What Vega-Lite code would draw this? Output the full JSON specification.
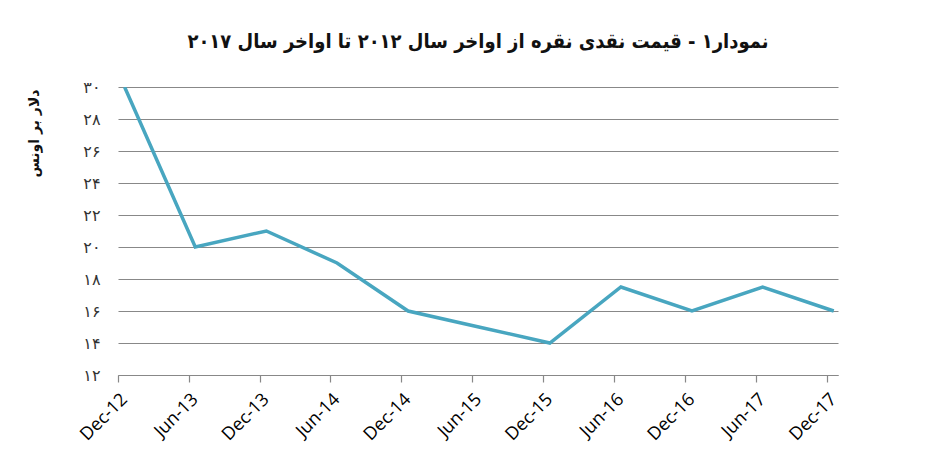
{
  "$schema": "https://vega.github.io/schema/vega-lite/v6.json",
  "width": 720,
  "height": 288,
  "autosize": {"type": "none"},
  "padding": {"left": 118, "top": 87, "right": 109, "bottom": 99},
  "background": "white",
  "title": {
    "text": "نمودار۱ - قیمت نقدی نقره از اواخر سال ۲۰۱۲ تا اواخر سال ۲۰۱۷",
    "font": "DejaVu Sans Condensed",
    "fontSize": 20,
    "fontWeight": "bold",
    "color": "#111111",
    "anchor": "middle",
    "offset": 27
  },
  "config": {"view": {"stroke": null}},
  "data": {
    "values": [
      {"date": "2012-12-18", "price": 30},
      {"date": "2013-06-18", "price": 20},
      {"date": "2013-12-18", "price": 21},
      {"date": "2014-06-18", "price": 19},
      {"date": "2014-12-18", "price": 16},
      {"date": "2015-06-18", "price": 15},
      {"date": "2015-12-18", "price": 14},
      {"date": "2016-06-18", "price": 17.5},
      {"date": "2016-12-18", "price": 16},
      {"date": "2017-06-18", "price": 17.5},
      {"date": "2017-12-18", "price": 16}
    ]
  },
  "mark": {"type": "line", "color": "#48A6C0", "strokeWidth": 3.5, "clip": true},
  "encoding": {
    "x": {
      "field": "date",
      "type": "temporal",
      "scale": {
        "type": "utc",
        "domain": [
          {"year": 2012, "month": 12, "date": 1, "utc": true},
          {"year": 2017, "month": 12, "date": 29, "utc": true}
        ]
      },
      "axis": {
        "title": null,
        "values": [
          {"year": 2012, "month": 12, "date": 1, "utc": true},
          {"year": 2013, "month": 6, "date": 1, "utc": true},
          {"year": 2013, "month": 12, "date": 1, "utc": true},
          {"year": 2014, "month": 6, "date": 1, "utc": true},
          {"year": 2014, "month": 12, "date": 1, "utc": true},
          {"year": 2015, "month": 6, "date": 1, "utc": true},
          {"year": 2015, "month": 12, "date": 1, "utc": true},
          {"year": 2016, "month": 6, "date": 1, "utc": true},
          {"year": 2016, "month": 12, "date": 1, "utc": true},
          {"year": 2017, "month": 6, "date": 1, "utc": true},
          {"year": 2017, "month": 12, "date": 1, "utc": true}
        ],
        "labelExpr": "utcFormat(datum.value, '%b-%y')",
        "labelAngle": -45,
        "labelFont": "Open Sans",
        "labelFontSize": 18,
        "labelColor": "#000000",
        "labelPadding": 8,
        "labelOverlap": false,
        "labelFlush": false,
        "grid": false,
        "domainColor": "#888888",
        "domainWidth": 1.2,
        "tickColor": "#888888",
        "tickWidth": 1.2,
        "tickSize": 7
      }
    },
    "y": {
      "field": "price",
      "type": "quantitative",
      "scale": {"domain": [12, 30], "nice": false, "zero": false},
      "axis": {
        "title": "دلار بر اونس",
        "titleFont": "DejaVu Sans",
        "titleFontSize": 14,
        "titleFontWeight": "bold",
        "titleColor": "#111111",
        "titleAngle": -90,
        "titleX": -84,
        "titleY": 2,
        "titleAlign": "right",
        "titleBaseline": "middle",
        "values": [12, 14, 16, 18, 20, 22, 24, 26, 28, 30],
        "labelExpr": "{'12':'۱۲','14':'۱۴','16':'۱۶','18':'۱۸','20':'۲۰','22':'۲۲','24':'۲۴','26':'۲۶','28':'۲۸','30':'۳۰'}[datum.label]",
        "labelFont": "DejaVu Sans",
        "labelFontSize": 16,
        "labelColor": "#333333",
        "labelPadding": 18,
        "ticks": false,
        "tickSize": 0,
        "domain": false,
        "grid": true,
        "gridColor": "#888888",
        "gridWidth": 1.2
      }
    }
  }
}
